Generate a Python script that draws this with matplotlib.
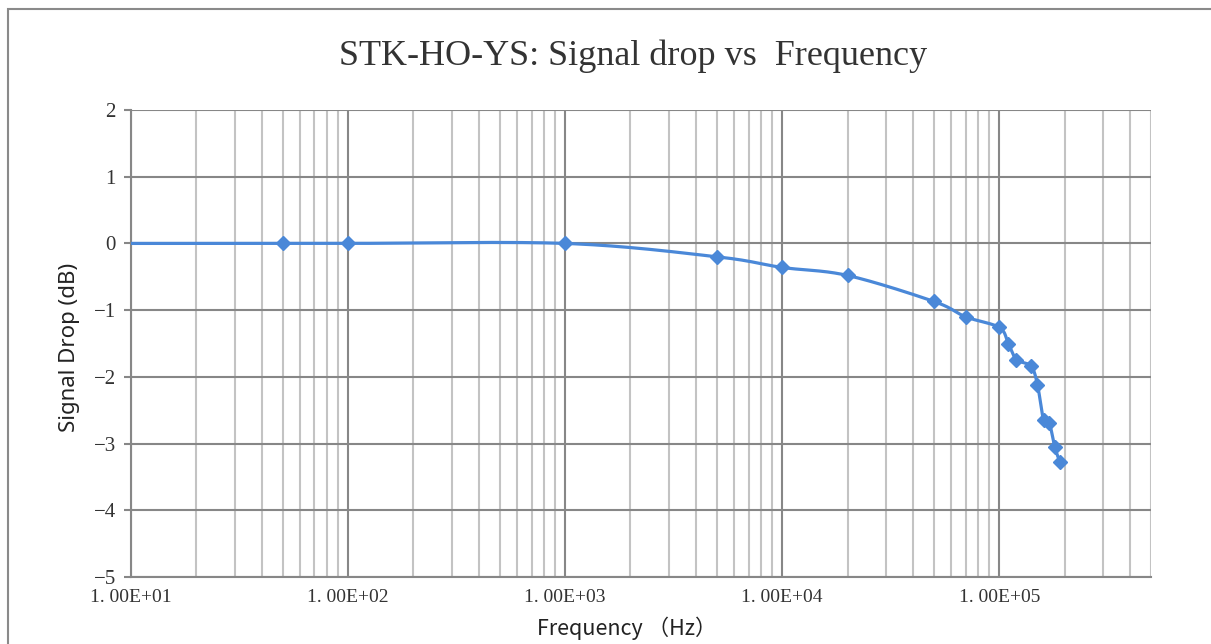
import numpy as np
import matplotlib
matplotlib.use("Agg")
import matplotlib.pyplot as plt
from matplotlib.patches import Rectangle
from matplotlib.ticker import FixedLocator, NullFormatter

# ---- data ----
freq_hz = [10, 50, 100, 1000, 5000, 1e4, 2e4, 5e4, 7e4, 1e5,
           1.1e5, 1.2e5, 1.4e5, 1.5e5, 1.6e5, 1.7e5, 1.8e5, 1.9e5]
drop_db = [0.0, 0.0, 0.0, 0.0, -0.2, -0.36, -0.48, -0.87, -1.1, -1.26,
           -1.5, -1.74, -1.84, -2.12, -2.65, -2.69, -3.05, -3.27]
x_major = [10, 100, 1000, 1e4, 1e5]
x_labels = ["1. 00E+01", "1. 00E+02", "1. 00E+03", "1. 00E+04", "1. 00E+05"]
y_ticks = [-5, -4, -3, -2, -1, 0, 1, 2]
title = "STK-HO-YS: Signal drop vs  Frequency"
xlabel = "Frequency （Hz）"
ylabel = "Signal Drop (dB)"

W, H = 1211, 644
fig = plt.figure(figsize=(W / 100, H / 100), dpi=100)
fig.patch.set_facecolor("white")

ax = fig.add_axes([131 / W, (H - 577) / H, (1151 - 131) / W, (577 - 110) / H])
ax.set_xscale("log")
ax.set_xlim(10, 5e5)
ax.set_ylim(-5, 2)

# ticks / grid
ax.xaxis.set_major_locator(FixedLocator(x_major))
minor = [m * d for d in [10, 100, 1000, 1e4, 1e5] for m in range(2, 10) if m * d <= 5e5]
ax.xaxis.set_minor_locator(FixedLocator(minor))
ax.xaxis.set_minor_formatter(NullFormatter())
ax.set_xticklabels(x_labels, fontfamily="Liberation Serif", fontsize=14, color="#333333")
ax.set_yticks(y_ticks)
ax.set_yticklabels([("\u2212%d" % -v) if v < 0 else str(v) for v in y_ticks],
                   fontfamily="Liberation Serif", fontsize=15, color="#333333")
ax.tick_params(axis="x", which="both", length=0, pad=9)
ax.tick_params(axis="y", which="major", length=5, width=1.5, color="#878787", pad=6)

ax.grid(which="minor", axis="x", color="#c3c3c3", lw=1.5, zorder=0)
ax.grid(which="major", axis="both", color="#878787", lw=1.5, zorder=0.5)
ax.set_axisbelow(True)
for s in ["top", "right"]:
    ax.spines[s].set_visible(False)
for s in ["left", "bottom"]:
    ax.spines[s].set_color("#878787")
    ax.spines[s].set_linewidth(1.5)


def smooth(ax, xs, ys, n=40):
    pts = ax.transData.transform(np.column_stack([xs, ys]))
    out = []
    for i in range(len(pts) - 1):
        p0 = pts[i - 1] if i > 0 else pts[i]
        p1 = pts[i]
        p2 = pts[i + 1]
        p3 = pts[i + 2] if i + 2 < len(pts) else pts[i + 1]
        c1 = p1 + (p2 - p0) / 6.0
        c2 = p2 - (p3 - p1) / 6.0
        t = np.linspace(0, 1, n)[:, None]
        seg = (1 - t) ** 3 * p1 + 3 * (1 - t) ** 2 * t * c1 + 3 * (1 - t) * t ** 2 * c2 + t ** 3 * p2
        out.append(seg if i == 0 else seg[1:])
    out = np.vstack(out)
    return ax.transData.inverted().transform(out)


color = "#4a88d8"
curve = smooth(ax, freq_hz, drop_db)
ax.plot(curve[:, 0], curve[:, 1], color=color, lw=2.3, zorder=3, solid_capstyle="round")
ax.plot(freq_hz[1:], drop_db[1:], "D", color=color, markersize=7, zorder=4)

fig.text(633 / W, 1 - 56 / H, title, ha="center", va="center",
         fontfamily="Liberation Serif", fontsize=26, color="#333333")
fig.text(627 / W, 1 - 628 / H, xlabel, ha="center", va="center",
         fontfamily=["Noto Sans CJK SC", "DejaVu Sans"], fontsize=15.5, color="#222222")
fig.text(70 / W, 1 - 347 / H, ylabel, ha="center", va="center", rotation=90,
         fontfamily="Noto Sans", fontsize=16, color="#222222")

fig.add_artist(Rectangle((7.5 / W, -0.1), 1.2, (H - 9.5) / H + 0.1,
                         transform=fig.transFigure, fill=False,
                         ec="#8a8a8a", lw=1.5))

fig.savefig("out.png", dpi=100)
